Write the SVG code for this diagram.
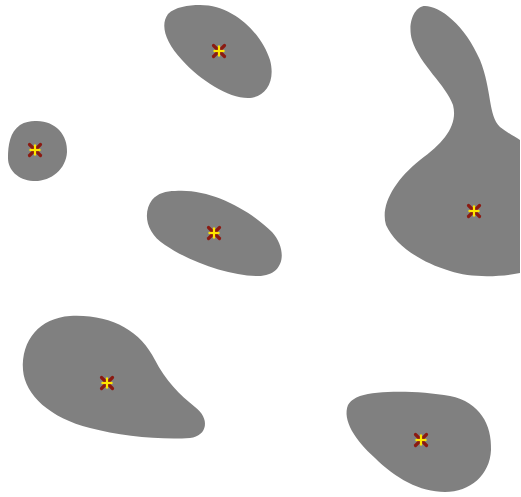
<svg xmlns="http://www.w3.org/2000/svg" width="521" height="497" viewBox="0 0 521 497">
<style>
.blob{fill:#808080;stroke:none}
.x{stroke:#8b1a12;stroke-width:3.2;stroke-linecap:round}
.p{stroke:#ffe600;stroke-width:2.2}
</style>
<defs>
<g id="mk">
<line class="x" x1="-5.5" y1="-5.5" x2="5.5" y2="5.5"/>
<line class="x" x1="-5.5" y1="5.5" x2="5.5" y2="-5.5"/>
<line class="p" x1="-5.5" y1="0" x2="5.5" y2="0"/>
<line class="p" x1="0" y1="-5.5" x2="0" y2="5.5"/>
</g>
</defs>
<rect width="521" height="497" fill="#ffffff"/>
<g id="blob1">
<path class="blob" d="M 200 5 C 235 5 262 35 270 60 C 276 82 265 98 248 98 C 228 98 200 80 182 60 C 165 42 160 25 168 14 C 175 7 188 5 200 5 Z"/>
<use href="#mk" x="219" y="51"/>
</g>
<g id="blob2">
<path class="blob" d="M 35 121 C 55 120 68 135 67 152 C 66 170 50 182 33 181 C 18 180 8 170 8 158 C 8 145 10 132 20 125 C 25 122 30 121 35 121 Z"/>
<use href="#mk" x="35" y="150"/>
</g>
<g id="blob3">
<path class="blob" d="M 175 191 C 210 188 250 210 272 232 C 288 250 285 276 258 276 C 230 276 190 262 165 245 C 145 232 143 212 152 200 C 158 193 166 191 175 191 Z"/>
<use href="#mk" x="214" y="233"/>
</g>
<g id="blob4">
<path class="blob" d="M 520 140 L 520 273 C 500 277 470 278 450 271 C 420 262 395 245 386 225 C 380 205 395 180 420 160 C 445 142 458 125 453 105 C 446 85 420 65 412 40 C 407 22 415 6 425 6 C 440 6 465 25 480 60 C 492 90 488 115 500 127 C 508 133 515 137 520 140 Z"/>
<use href="#mk" x="474" y="211"/>
</g>
<g id="blob5">
<path class="blob" d="M 70 316 C 110 314 140 330 155 360 C 165 380 180 395 195 407 C 210 418 208 436 190 438 C 160 440 120 436 90 428 C 50 418 25 395 23 370 C 21 340 40 318 70 316 Z"/>
<use href="#mk" x="107" y="383"/>
</g>
<g id="blob6">
<path class="blob" d="M 360 396 C 380 390 420 391 450 396 C 480 402 492 425 491 450 C 490 475 470 492 445 492 C 420 492 395 478 375 458 C 355 440 342 420 348 405 C 351 400 355 398 360 396 Z"/>
<use href="#mk" x="421" y="440"/>
</g>
<g id="connectors"/>
</svg>
